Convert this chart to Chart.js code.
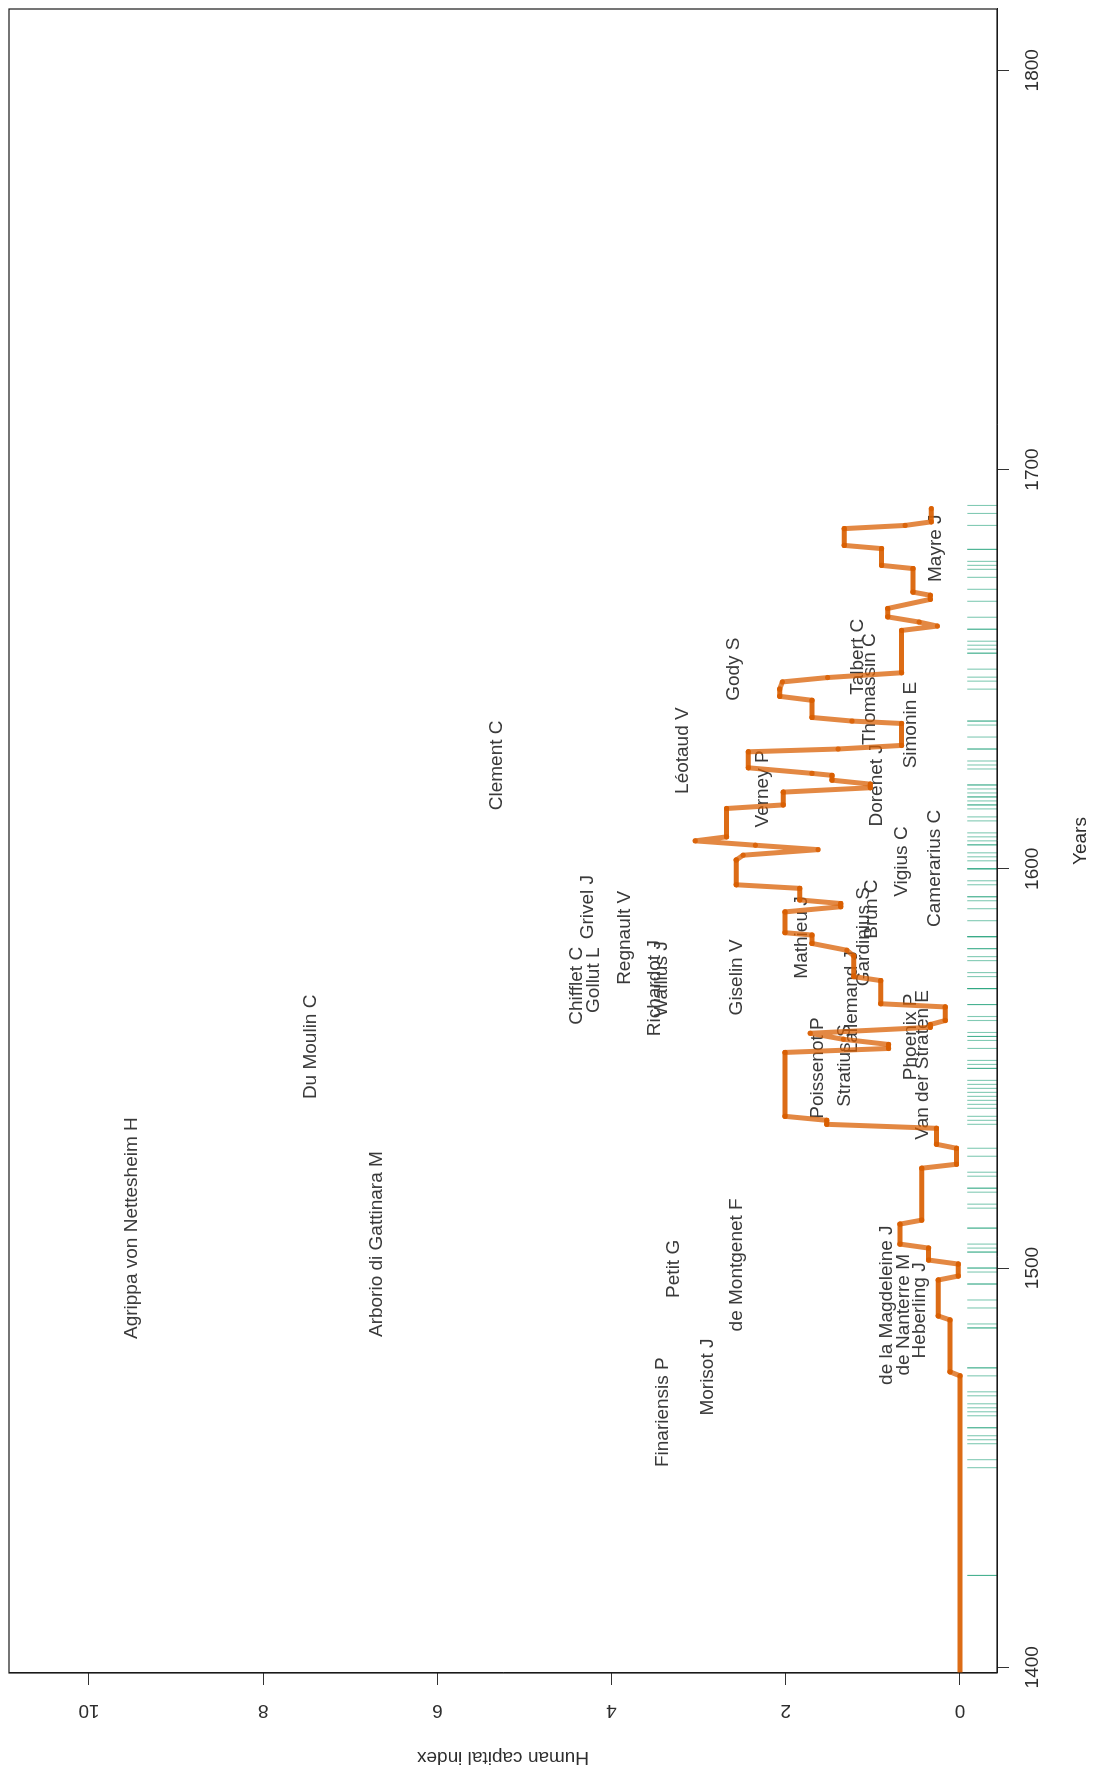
<!DOCTYPE html>
<html><head><meta charset="utf-8">
<script src="https://cdn.jsdelivr.net/npm/chart.js@4"></script>
<style>
html,body{margin:0;padding:0;background:#fff;overflow:hidden;width:1093px;height:1769px}
#wrap{position:absolute;left:0;top:0;width:1769px;height:1093px;transform-origin:0 0;transform:rotate(-90deg) translate(-1769px,0);background:#fff}
canvas{display:block}
</style></head><body>
<div id="wrap"><canvas id="c" width="1769" height="1093"></canvas></div>
<script>
// Human capital index (rolling) — breakpoints
const hcYears = [1398,1473,1474,1487,1488,1497,1498,1501,1502,1505,1506,1511,1512,1525,1526,1530,1531,1535,1536,1537,1538,1554,1555,1556,1557.3,1558.8,1560.3,1561,1562,1565.4,1566.2,1572,1573,1578.2,1579.6,1581.3,1583.4,1584,1589.2,1590.5,1591.3,1592.2,1595.1,1596,1602.2,1603.4,1604.8,1605.9,1607,1608,1615.1,1616,1619.2,1620.3,1621.2,1622.2,1623.4,1623.9,1625.3,1629.3,1630,1630.9,1636.4,1637,1637.9,1642.2,1643.2,1645,1646.8,1647.9,1649.1,1659.7,1660.8,1661.8,1663.1,1665.2,1667.5,1668.5,1669.3,1675.2,1676,1680.2,1681,1685.2,1686,1686.9,1690.2];
const hcValues = [0,0,0.115,0.115,0.25,0.25,0.02,0.02,0.36,0.36,0.69,0.69,0.44,0.44,0.04,0.04,0.27,0.27,1.53,1.53,2.01,2.01,0.82,0.82,1.34,1.72,0.34,0.34,0.17,0.17,0.91,0.91,1.22,1.22,1.30,1.70,1.70,2.01,2.01,1.37,1.37,1.84,1.84,2.57,2.57,2.49,1.63,2.35,3.04,2.68,2.68,2.03,2.03,1.03,1.03,1.47,1.47,1.70,2.43,2.43,1.40,0.67,0.67,1.24,1.70,1.70,2.07,2.07,2.04,1.52,0.67,0.67,0.26,0.47,0.83,0.83,0.34,0.34,0.54,0.54,0.90,0.90,1.33,1.33,0.63,0.33,0.33];

// years of the individuals (rug)
const rugYears = [1423,1423,1450,1452,1456,1457,1458,1460,1460,1463,1464,1465,1466,1468,1469,
1473,1475,1475,1485,1485,1486,1490,1492,1496,1496,1499,1500,1500,1504,1504,1505,1506,1510,1510,1515,1516,1519,1520,1520,1523,1524,1528,1530,1536,1537,1538,1540,1541,1542,1543,1544,
1545,1546,1547,1550,1550,1551,1552,1555,1557,1558,1558,1559,1562,1563,1566,1566,1570,1570,1570,1573,1574,1577,1578,1580,1580,1583,1583,1583,1587,1590,1592,1593,1593,1596,1597,1600,1600,1600,1602,1603,1604,1606,1606,1607,1608,1609,1612,1613,
1615,1616,1616,1617,1618,1618,1619,1620,1621,1621,1625,1626,1627,1630,1630,1633,1636,1637,1637,1645,1647,1648,1650,1654,1654,1655,1656,1657,1660,1660,1663,1667,1670,1673,1675,1676,1677,1680,1680,1686,1689,1691];

// named individuals
const nameLabels = ["Agrippa von Nettesheim H","Arborio di Gattinara M","Du Moulin C","Clement C","Chifflet C","Gollut L","Grivel J","Regnault V","Richardot J","Wallius J","Giselin V","Léotaud V","Gody S","Verney P","Mathieu J","Poissenot P","Stratius S","Lallemand J","Gardinius S","Brun C","Dorenet J","Thomassin C","Talbert C","Simonin E","Vigius C","Camerarius C","Phoenix P","Van der Straten E","Mayre J","Petit G","de Montgenet F","Finariensis P","Morisot J","de la Magdeleine J","de Nanterre M","Heberling J"];
const nameYears = [1510.0,1506.0,1555.4,1625.9,1570.7,1572.1,1590.4,1582.7,1570.1,1572.4,1572.8,1629.6,1650.0,1620.0,1582.8,1550.1,1550.7,1566.6,1583.0,1589.9,1620.9,1645.0,1653.1,1636.0,1601.8,1600.1,1557.9,1550.9,1680.3,1499.8,1500.8,1463.9,1472.7,1490.7,1488.3,1489.4];
const nameValues = [9.51,6.70,7.45,5.32,4.40,4.20,4.27,3.85,3.50,3.42,2.56,3.18,2.60,2.26,1.82,1.63,1.32,1.24,1.11,1.01,0.96,1.04,1.17,0.56,0.67,0.29,0.57,0.43,0.28,3.29,2.56,3.41,2.89,0.84,0.65,0.46];

const yearTicks = [1400,1500,1600,1700,1800];
const indexTicks = [0,2,4,6,8,10];
const xTitle = 'Years';
const yTitle = 'Human capital index';

const FONT = '19px "Liberation Sans", Arial, Helvetica, sans-serif';

const overlay = {
  id: 'overlay',
  beforeDatasetsDraw(chart) {
    const {ctx, chartArea: a, scales: {x, y}} = chart;
    ctx.save();
    // rug
    ctx.strokeStyle = 'rgba(27,158,119,0.55)';
    ctx.lineWidth = 1.1;
    const len = (a.bottom - a.top) * 0.03;
    rugYears.forEach(v => {
      const px = x.getPixelForValue(v);
      ctx.beginPath(); ctx.moveTo(px, a.bottom); ctx.lineTo(px, a.bottom - len); ctx.stroke();
    });
    // names
    ctx.fillStyle = '#3a3a3a';
    ctx.font = FONT; ctx.textAlign = 'center'; ctx.textBaseline = 'middle';
    nameLabels.forEach((t, i) => ctx.fillText(t, x.getPixelForValue(nameYears[i]), y.getPixelForValue(nameValues[i])));
    ctx.restore();
  },
  afterDraw(chart) {
    const {ctx, chartArea: a, scales: {x, y}} = chart;
    ctx.save();
    ctx.strokeStyle = '#1a1a1a'; ctx.lineWidth = 1.2;
    ctx.strokeRect(a.left, a.top, a.right - a.left, a.bottom - a.top);
    ctx.fillStyle = '#2e2e2e';
    ctx.font = FONT; ctx.textAlign = 'center'; ctx.textBaseline = 'middle';
    yearTicks.forEach(v => ctx.fillText(String(v), x.getPixelForValue(v), a.bottom + 36));
    ctx.fillText(xTitle, (a.left + a.right) / 2, a.bottom + 84);
    indexTicks.forEach(v => {
      ctx.save(); ctx.translate(a.left - 37, y.getPixelForValue(v)); ctx.rotate(-Math.PI / 2);
      ctx.fillText(String(v), 0, 0); ctx.restore();
    });
    ctx.save(); ctx.translate(a.left - 84, (a.top + a.bottom) / 2); ctx.rotate(-Math.PI / 2);
    ctx.fillText(yTitle, 0, 0); ctx.restore();
    ctx.restore();
  }
};

const gridOpts = {drawOnChartArea: false, drawTicks: true, tickLength: 12, color: '#333', lineWidth: 1};

new Chart(document.getElementById('c'), {
  type: 'line',
  data: {
    datasets: [{
      data: hcYears.map((v, i) => ({x: v, y: hcValues[i]})),
      borderColor: 'rgba(217,95,2,0.75)',
      borderWidth: 5,
      pointRadius: 2.6,
      pointBackgroundColor: 'rgba(217,95,2,0.85)',
      pointBorderWidth: 0,
      tension: 0,
      borderJoinStyle: 'round',
      borderCapStyle: 'round',
      segment: {
        borderColor: c => c.p0.parsed.y === c.p1.parsed.y ? 'rgba(217,95,2,0.92)' : 'rgba(217,95,2,0.74)'
      }
    }]
  },
  options: {
    responsive: false,
    animation: false,
    devicePixelRatio: 1,
    layout: {padding: {top: 9, right: 9, left: 0, bottom: 0}},
    plugins: {legend: {display: false}, tooltip: {enabled: false}},
    scales: {
      x: {
        type: 'linear', min: 1398.57, max: 1815.35,
        afterBuildTicks: s => { s.ticks = yearTicks.map(v => ({value: v})); },
        ticks: {display: false},
        grid: gridOpts,
        border: {display: true, color: '#1a1a1a', width: 1},
        afterFit: s => { s.height = 96; }
      },
      y: {
        type: 'linear', min: -0.425, max: 10.918,
        afterBuildTicks: s => { s.ticks = indexTicks.map(v => ({value: v})); },
        ticks: {display: false},
        grid: gridOpts,
        border: {display: true, color: '#1a1a1a', width: 1},
        afterFit: s => { s.width = 96; }
      }
    }
  },
  plugins: [overlay]
});
</script>
</body></html>
